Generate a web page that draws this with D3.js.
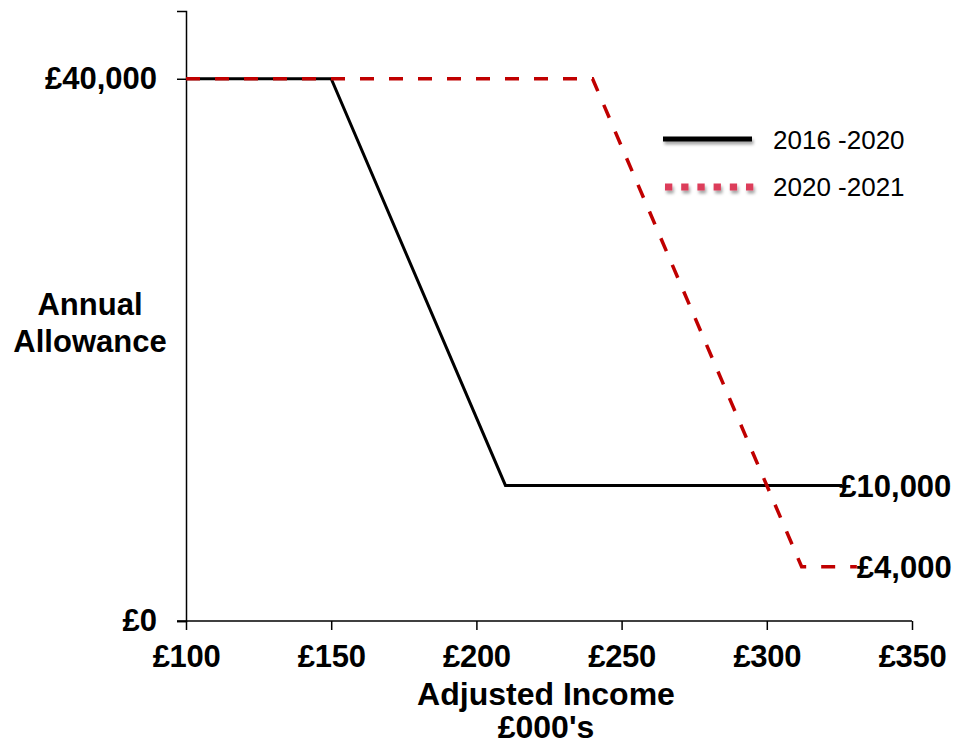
<!DOCTYPE html>
<html><head><meta charset="utf-8">
<script src="https://cdn.jsdelivr.net/npm/d3@7"></script>
<style>body{margin:0;background:#fff}svg{display:block}text{font-family:"Liberation Sans",Arial,sans-serif}</style>
</head><body>
<svg id="c" width="959" height="743"></svg>
<script>
const xTicks = [100,150,200,250,300,350];
const yTicks = [0,40000];
const series2016x = [100,150,210,326];
const series2016y = [40000,40000,10000,10000];
const series2020x = [100,240,312,331];
const series2020y = [40000,40000,4000,4000];
const seriesNames = ["2016 -2020","2020 -2021"];
const endLabels = ["£10,000","£4,000"];

const svg = d3.select("#c");
const x = d3.scaleLinear().domain([100,350]).range([186,912]);
const y = d3.scaleLinear().domain([0,45000]).range([621,11]);

const defs = svg.append("defs");
const f = defs.append("filter").attr("id","sh").attr("filterUnits","userSpaceOnUse")
  .attr("x",640).attr("y",120).attr("width",140).attr("height",90);
f.append("feDropShadow").attr("dx",1.5).attr("dy",3).attr("stdDeviation",1.8).attr("flood-color","#000").attr("flood-opacity",0.35);

// axes
const xAxis = svg.append("g").attr("transform","translate(0,621)")
  .call(d3.axisBottom(x).tickValues(xTicks).tickSize(9).tickFormat(d=>"£"+d));
const yAxis = svg.append("g").attr("transform","translate(186,0)")
  .call(d3.axisLeft(y).tickValues(yTicks).tickSize(9).tickFormat(d=>"£"+d3.format(",")(d)));
[xAxis,yAxis].forEach(g=>{
  g.select(".domain").attr("stroke","#000").attr("stroke-width",1.5);
  g.selectAll(".tick line").attr("stroke","#000").attr("stroke-width",1.5);
  g.selectAll(".tick text").attr("fill","#000").attr("font-size",31).attr("font-weight","bold").attr("font-family","'Liberation Sans',Arial,sans-serif");
});
xAxis.select(".domain").attr("d","M177,0H912");
xAxis.selectAll(".tick text").attr("y",24).attr("dy","0.71em").attr("letter-spacing",-0.3);
yAxis.selectAll(".tick text").attr("x",-29);

// axis titles
svg.append("text").attr("x",546).attr("y",705).attr("text-anchor","middle").attr("font-size",32).attr("font-weight","bold").text("Adjusted Income");
svg.append("text").attr("x",546).attr("y",738).attr("text-anchor","middle").attr("font-size",32).attr("font-weight","bold").text("£000's");
svg.append("text").attr("x",90).attr("y",315).attr("text-anchor","middle").attr("font-size",31).attr("font-weight","bold").text("Annual");
svg.append("text").attr("x",90).attr("y",352).attr("text-anchor","middle").attr("font-size",31).attr("font-weight","bold").text("Allowance");

const line = d3.line().x(d=>x(d[0])).y(d=>y(d[1]));
const d16 = series2016x.map((v,i)=>[v,series2016y[i]]);
const d20 = series2020x.map((v,i)=>[v,series2020y[i]]);
svg.append("path").attr("d",line(d16)).attr("fill","none").attr("stroke","#000").attr("stroke-width",3);
svg.append("path").attr("d",line(d20)).attr("fill","none").attr("stroke","#c00000").attr("stroke-width",3.5).attr("stroke-dasharray","14,15");

// end labels
svg.append("text").attr("x",x(d16[d16.length-1][0])-3).attr("y",y(10000)).attr("dy","0.36em").attr("font-size",31).attr("font-weight","bold").text(endLabels[0]);
svg.append("text").attr("x",x(d20[d20.length-1][0])).attr("y",y(4000)).attr("dy","0.36em").attr("font-size",31).attr("font-weight","bold").text(endLabels[1]);

// legend
const lg = svg.append("g");
lg.append("rect").attr("x",663).attr("y",136.5).attr("width",89).attr("height",5).attr("fill","#000").attr("filter","url(#sh)");
const dots = lg.append("g").attr("filter","url(#sh)");
dots.selectAll("rect").data(d3.range(6)).join("rect")
  .attr("x",i=>665+i*16.2).attr("y",183.5).attr("width",7.3).attr("height",7).attr("fill","#dc3c5a");
lg.append("text").attr("x",773).attr("y",149).attr("font-size",26).text(seriesNames[0]);
lg.append("text").attr("x",773).attr("y",196).attr("font-size",26).text(seriesNames[1]);
</script>
</body></html>
